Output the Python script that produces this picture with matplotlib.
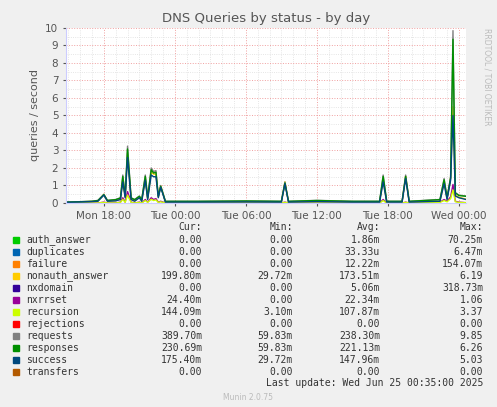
import numpy as np
import matplotlib.pyplot as plt

# hours relative to Mon 18:00
t = [-3.2, -1.0, -0.5, 0.0, 0.3, 1.0, 1.4, 1.6, 1.8, 2.0, 2.3, 2.6, 3.0, 3.2, 3.5, 3.7, 4.0, 4.2, 4.4, 4.6, 4.8, 5.2,
     8.0, 12.0, 15.0, 15.3, 15.6, 18.0, 21.0, 23.3, 23.6, 23.9, 25.2, 25.5, 25.8, 28.4, 28.75, 29.0, 29.3, 29.5,
     29.7, 30.0, 30.6]
requests = [0.05, 0.1, 0.15, 0.5, 0.15, 0.2, 0.3, 1.6, 0.4, 3.25, 0.3, 0.2, 0.4, 0.2, 1.6, 0.3, 2.0, 1.8, 1.85, 0.4, 1.0, 0.1,
            0.1, 0.12, 0.1, 1.2, 0.1, 0.15, 0.1, 0.1, 1.6, 0.1, 0.1, 1.6, 0.1, 0.2, 1.4, 0.3, 1.5, 9.85,
            0.6, 0.45, 0.4]
responses = [v * 0.95 for v in requests]
success = [0.04, 0.08, 0.1, 0.45, 0.1, 0.12, 0.2, 1.2, 0.3, 2.6, 0.2, 0.1, 0.3, 0.1, 1.3, 0.2, 1.6, 1.5, 1.5, 0.3, 0.9, 0.05,
           0.05, 0.06, 0.05, 1.1, 0.05, 0.08, 0.05, 0.05, 1.2, 0.05, 0.05, 1.4, 0.05, 0.1, 1.1, 0.2, 1.3, 5.0,
           0.4, 0.3, 0.2]
nonauth = [v * 1.1 for v in success]
nxrrset = [0, 0, 0, 0.05, 0, 0, 0.05, 0.3, 0.05, 0.65, 0.05, 0, 0.05, 0, 0.2, 0.05, 0.3, 0.2, 0.25, 0.05, 0.1, 0,
           0, 0, 0, 0.05, 0, 0, 0, 0, 0.2, 0, 0, 0.05, 0, 0.05, 0.2, 0.1, 0.35, 1.06,
           0.1, 0.05, 0.02]
recursion = [v * 0.7 for v in nxrrset]

names = ["auth_answer", "duplicates", "failure", "nonauth_answer", "nxdomain", "nxrrset", "recursion",
         "rejections", "requests", "responses", "success", "transfers"]
colors = ["#00CC00", "#0066B3", "#FF8000", "#FFCC00", "#330099", "#990099", "#CCFF00",
          "#FF0000", "#808080", "#008F00", "#00487D", "#B35A00"]
cur = ["0.00", "0.00", "0.00", "199.80m", "0.00", "24.40m", "144.09m", "0.00", "389.70m", "230.69m", "175.40m", "0.00"]
mins = ["0.00", "0.00", "0.00", "29.72m", "0.00", "0.00", "3.10m", "0.00", "59.83m", "59.83m", "29.72m", "0.00"]
avgs = ["1.86m", "33.33u", "12.22m", "173.51m", "5.06m", "22.34m", "107.87m", "0.00", "238.30m", "221.13m", "147.96m", "0.00"]
maxs = ["70.25m", "6.47m", "154.07m", "6.19", "318.73m", "1.06", "3.37", "0.00", "9.85", "6.26", "5.03", "0.00"]

xticks = [0, 6, 12, 18, 24, 30]
xlabels = ["Mon 18:00", "Tue 00:00", "Tue 06:00", "Tue 12:00", "Tue 18:00", "Wed 00:00"]

W, H = 497, 407
fig = plt.figure(figsize=(W / 100, H / 100), dpi=100, facecolor="#F0F0F0")
ax = fig.add_axes([66 / W, (H - 203) / H, 400 / W, 175 / H], facecolor="white")

series = {"nonauth_answer": nonauth, "nxrrset": nxrrset, "recursion": recursion,
          "requests": requests, "responses": responses, "success": success}
for n, c in zip(names, colors):
    if n in series:
        ax.plot(t, series[n], color=c, lw=1)

ax.set_xlim(-3.2, 30.6)
ax.set_ylim(0, 10)
ax.set_xticks(xticks)
ax.set_xticklabels(xlabels)
ax.set_xticks(np.arange(-3, 31, 1), minor=True)
ax.set_yticks(np.arange(0, 11, 1))
ax.set_yticks(np.arange(0, 10.5, 0.5), minor=True)
ax.grid(which="minor", color="#DDDDDD", ls=":", lw=0.6)
ax.grid(which="major", color="#F0A0A0", ls=":", lw=0.7)
ax.tick_params(labelsize=7.5, colors="#555555", length=2)
ax.tick_params(which="minor", length=0)
for s in ["top", "right"]:
    ax.spines[s].set_visible(False)
for s in ["left", "bottom"]:
    ax.spines[s].set_color("#CCCCFF")
ax.set_ylabel("queries / second", fontsize=8, color="#555555")
ax.set_title("DNS Queries by status - by day", fontsize=9.5, color="#555555", pad=4)

fig.text(487 / W, 1 - 28 / H, "RRDTOOL / TOBI OETIKER", rotation=270, fontsize=5.5, color="#BBBBBB",
         va="top", ha="center")

mono = "DejaVu Sans Mono"
def ty(py):
    return 1 - py / H
for x, s in [(202, "Cur:"), (293, "Min:"), (380, "Avg:"), (483, "Max:")]:
    fig.text(x / W, ty(227), s, family=mono, fontsize=7, ha="right", va="center", color="#333333")
for i, n in enumerate(names):
    y = ty(240 + i * 12.0)
    fig.patches.append(plt.Rectangle((13 / W, y - 3 / H), 6 / W, 6 / H, transform=fig.transFigure,
                                     color=colors[i], figure=fig))
    fig.text(26 / W, y, n, family=mono, fontsize=7, va="center", color="#333333")
    for x, v in [(202, cur[i]), (293, mins[i]), (380, avgs[i]), (483, maxs[i])]:
        fig.text(x / W, y, v, family=mono, fontsize=7, ha="right", va="center", color="#333333")
fig.text(483 / W, ty(383), "Last update: Wed Jun 25 00:35:00 2025", family=mono, fontsize=7,
         ha="right", va="center", color="#333333")
fig.text(248 / W, ty(398), "Munin 2.0.75", fontsize=5.5, ha="center", va="center", color="#BBBBBB")

fig.savefig("out.png", dpi=100, facecolor=fig.get_facecolor())
